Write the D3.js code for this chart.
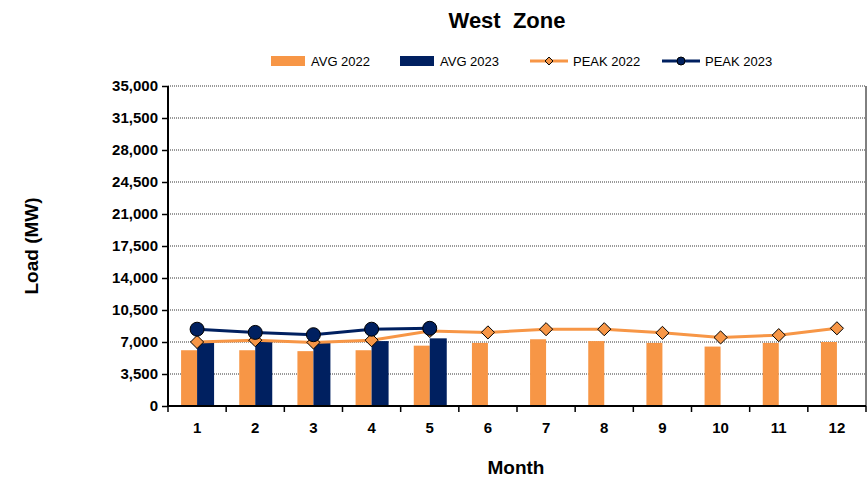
<!DOCTYPE html>
<html><head><meta charset="utf-8">
<script src="https://cdn.jsdelivr.net/npm/d3@7"></script>
<style>body{margin:0;background:#fff}text{font-family:Arial,"Liberation Sans",sans-serif}</style>
</head><body><div id="chart"></div>
<script>
const months = [1,2,3,4,5,6,7,8,9,10,11,12];
const avg2022 = [6100,6100,6000,6100,6600,6900,7300,7100,6900,6500,6900,7000];
const avg2023 = [7000,7000,6900,7100,7400];
const peak2022 = [7000,7200,6950,7200,8200,8050,8400,8400,8000,7500,7750,8500];
const peak2023 = [8400,8050,7800,8400,8500];
const yTicks = [0,3500,7000,10500,14000,17500,21000,24500,28000,31500,35000];

const orange = "#f79646", navy = "#002060";
const W = 867, H = 481;
const m = {left:168, right:1, top:86, bottom:75};
const svg = d3.select("#chart").append("svg").attr("width",W).attr("height",H);
const x = d3.scaleBand().domain(months).range([m.left, W-m.right]);
const y = d3.scaleLinear().domain([0,35000]).range([H-m.bottom, m.top]);
const bw = 16;

svg.append("text").attr("x",507).attr("y",28).attr("text-anchor","middle")
  .style("font-size","22px").style("font-weight","bold").style("white-space","pre").text("West  Zone");

// grid
svg.append("g").selectAll("line").data(yTicks.slice(1)).join("line")
  .attr("x1",m.left).attr("x2",W-m.right).attr("y1",d=>y(d)).attr("y2",d=>y(d))
  .attr("stroke","#000").attr("stroke-width",0.8).attr("stroke-dasharray","1,1");
svg.append("line").attr("x1",W-m.right).attr("x2",W-m.right).attr("y1",m.top).attr("y2",y(0)).attr("stroke","#000");

svg.append("g").selectAll("rect").data(avg2022).join("rect")
  .attr("x",(d,i)=>x(months[i])+x.bandwidth()/2-bw).attr("width",bw)
  .attr("y",d=>y(d)).attr("height",d=>y(0)-y(d)).attr("fill",orange);
svg.append("g").selectAll("rect").data(avg2023).join("rect")
  .attr("x",(d,i)=>x(months[i])+x.bandwidth()/2).attr("width",bw+1)
  .attr("y",d=>y(d)).attr("height",d=>y(0)-y(d)).attr("fill",navy);

const cx = i => x(months[i])+x.bandwidth()/2;
const line = d3.line().x((d,i)=>cx(i)).y(d=>y(d));
svg.append("path").datum(peak2022).attr("d",line).attr("fill","none").attr("stroke",orange).attr("stroke-width",3);
svg.append("path").datum(peak2023).attr("d",line).attr("fill","none").attr("stroke",navy).attr("stroke-width",3);
svg.append("g").selectAll("path").data(peak2022).join("path")
  .attr("d",d3.symbol(d3.symbolDiamond2,110)()).attr("transform",(d,i)=>`translate(${cx(i)},${y(d)})`)
  .attr("fill",orange).attr("stroke","#000").attr("stroke-width",1);
svg.append("g").selectAll("circle").data(peak2023).join("circle")
  .attr("cx",(d,i)=>cx(i)).attr("cy",d=>y(d)).attr("r",7)
  .attr("fill",navy).attr("stroke","#000").attr("stroke-width",1);

// axes
const ya = svg.append("g").attr("transform",`translate(${m.left},0)`)
  .call(d3.axisLeft(y).tickValues(yTicks).tickSize(6).tickFormat(d3.format(",")));
ya.select(".domain").attr("stroke-width",2).attr("d",`M0,${m.top}V${y(0)}`);
ya.selectAll(".tick line").attr("stroke-width",1.5);
ya.selectAll("text").style("font-size","15px").style("font-weight","bold").attr("x",-10);
const xa = svg.append("g").attr("transform",`translate(0,${y(0)})`)
  .call(d3.axisBottom(x).tickSize(0).tickPadding(16));
xa.select(".domain").attr("stroke-width",2).attr("d",`M${m.left},0H${W-m.right}`);
xa.selectAll("text").style("font-size","15px").style("font-weight","bold");
svg.append("g").selectAll("line").data(months.concat([13])).join("line")
  .attr("x1",(d,i)=>m.left+i*x.bandwidth()).attr("x2",(d,i)=>m.left+i*x.bandwidth())
  .attr("y1",y(0)).attr("y2",y(0)+6).attr("stroke","#000").attr("stroke-width",1.5);

svg.append("text").attr("x",516).attr("y",474).attr("text-anchor","middle")
  .style("font-size","19px").style("font-weight","bold").text("Month");
svg.append("text").attr("transform",`translate(38,${(m.top+y(0))/2}) rotate(-90)`)
  .attr("text-anchor","middle").style("font-size","19px").style("font-weight","bold").text("Load (MW)");

// legend
const lg = svg.append("g").style("font-size","13px");
const items = [
  {t:"AVG 2022",x:271,k:"bar",c:orange},
  {t:"AVG 2023",x:400,k:"bar",c:navy},
  {t:"PEAK 2022",x:530,k:"dia",c:orange},
  {t:"PEAK 2023",x:662,k:"cir",c:navy}];
items.forEach(it=>{
  const g = lg.append("g").attr("transform",`translate(${it.x},61)`);
  if(it.k==="bar") g.append("rect").attr("x",0).attr("y",-5).attr("width",34).attr("height",10).attr("fill",it.c);
  else {
    g.append("line").attr("x1",0).attr("x2",38).attr("stroke",it.c).attr("stroke-width",3);
    if(it.k==="dia") g.append("path").attr("d",d3.symbol(d3.symbolDiamond2,40)()).attr("transform","translate(19,0)").attr("fill",it.c).attr("stroke","#000");
    else g.append("circle").attr("cx",19).attr("r",4).attr("fill",it.c).attr("stroke","#000");
  }
  g.append("text").attr("x",it.k==="bar"?40:43).attr("y",5).text(it.t);
});
</script></body></html>
